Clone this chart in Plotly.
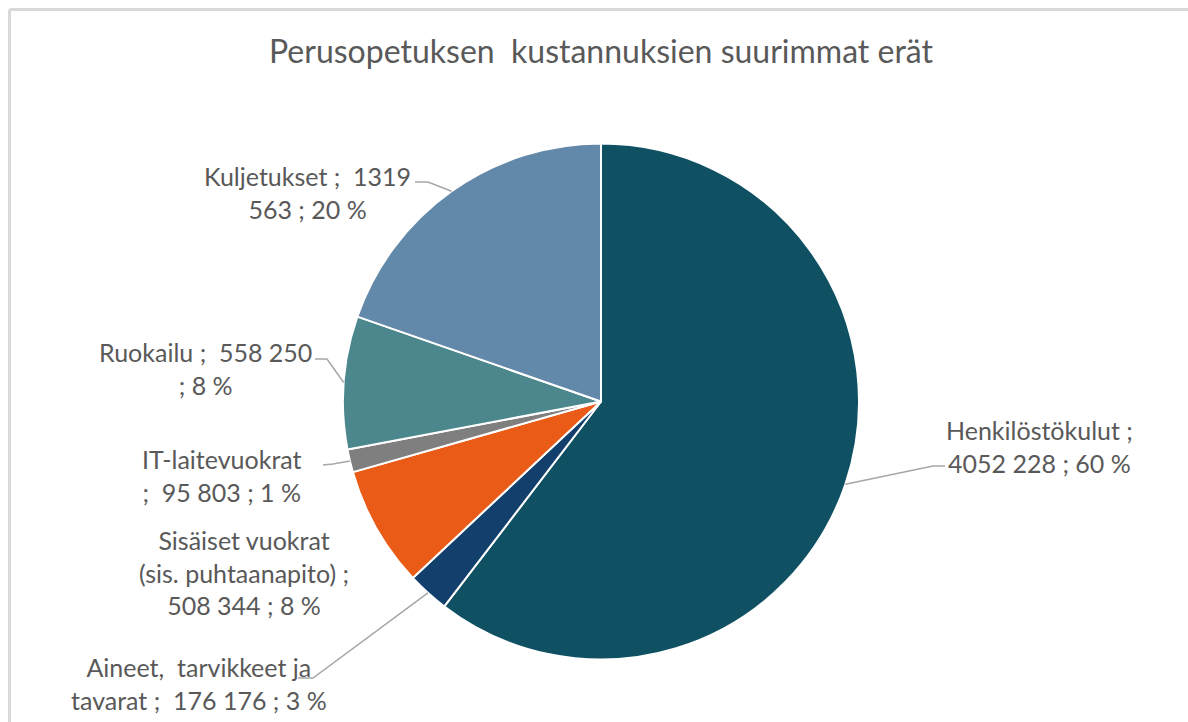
import math
import plotly.graph_objects as go

# ---- data ----
categories = ["Henkilöstökulut", "Aineet, tarvikkeet ja tavarat",
              "Sisäiset vuokrat (sis. puhtaanapito)", "IT-laitevuokrat",
              "Ruokailu", "Kuljetukset"]
values = [4052228, 176176, 508344, 95803, 558250, 1319563]
title_text = "Perusopetuksen&nbsp; kustannuksien suurimmat erät"

# ---- style ----
colors = ["#0f5063", "#133f6c", "#ea5b18", "#7f7f7f", "#4c878d", "#6389aa"]
W, H = 1188, 722
CX, CY, R = 601, 401.5, 258
# words per line for each label
line_words = [[2, 5], [3, 7], [2, 3, 5], [1, 6], [4, 3], [3, 4]]
# label block centres (px)
label_pos = [(1039, 446), (199, 683), (244, 572), (222, 475), (206, 368), (307, 192)]
# leader lines: (elbow, end) in px, None = no line
leaders = [((933, 466), (945, 466)), ((313, 678), (298, 678)), None,
           ((333, 464), (323, 465)), ((327, 359), (315, 359)), ((428, 182), (415, 182))]
font = "Lato, 'Open Sans', sans-serif"
txt_color = "#595959"
NB = "\u00a0"


def fmt(v):
    return f"{v // 1000} {v % 1000:03d}" if v >= 1000 else str(v)


def px(x):
    return x / W


def py(y):
    return 1 - y / H


total = sum(values)
fig = go.Figure(go.Pie(
    labels=categories, values=values, sort=False, direction="clockwise",
    rotation=0, textinfo="none", hoverinfo="label+value+percent",
    marker=dict(colors=colors, line=dict(color="white", width=2)),
    domain=dict(x=[px(CX - R), px(CX + R)], y=[py(CY + R), py(CY - R)]),
    showlegend=False,
))

annotations = []
shapes = []
cum = 0
for i, (cat, v) in enumerate(zip(categories, values)):
    frac = v / total
    mid = (cum + frac / 2) * 2 * math.pi
    cum += frac
    pct = round(frac * 100)
    name = cat.replace(", ", "," + NB + " ")
    words = (f"{name} ;{NB} {fmt(v)} ; {pct} %").split(" ")
    lines, k = [], 0
    for n in line_words[i]:
        lines.append(" ".join(words[k:k + n]).strip(NB))
        k += n
    if k < len(words):
        lines[-1] += " " + " ".join(words[k:])
    lx, ly = label_pos[i]
    annotations.append(dict(
        x=px(lx), y=py(ly), xref="paper", yref="paper", showarrow=False,
        text="<br>".join(lines), align="center", xanchor="center", yanchor="middle",
        font=dict(family=font, size=25, color=txt_color)))
    if leaders[i] is not None:
        sx = CX + R * math.sin(mid)
        sy = CY - R * math.cos(mid)
        (ex, ey), (fx, fy) = leaders[i]
        path = f"M {px(sx)} {py(sy)} L {px(ex)} {py(ey)} L {px(fx)} {py(fy)}"
        shapes.append(dict(type="path", path=path, xref="paper", yref="paper",
                           line=dict(color="#a6a6a6", width=1.5)))

# chart frame (top and left edges visible)
shapes.append(dict(type="line", xref="paper", yref="paper",
                   x0=px(9.5), y0=py(9.5), x1=px(W + 20), y1=py(9.5),
                   line=dict(color="#d9d9d9", width=3), layer="below"))
shapes.append(dict(type="line", xref="paper", yref="paper",
                   x0=px(9.5), y0=py(9.5), x1=px(9.5), y1=py(H + 20),
                   line=dict(color="#d9d9d9", width=3), layer="below"))
# white mask on right edge
shapes.append(dict(type="rect", xref="paper", yref="paper",
                   x0=px(1172), y0=py(H + 20), x1=px(W + 20), y1=py(12),
                   fillcolor="white", line=dict(width=0), layer="above"))

annotations.append(dict(
    x=px(601), y=py(50), xref="paper", yref="paper", showarrow=False,
    text=title_text, xanchor="center", yanchor="middle",
    font=dict(family=font, size=32, color=txt_color)))

fig.update_layout(
    width=W, height=H, margin=dict(l=0, r=0, t=0, b=0),
    paper_bgcolor="white", plot_bgcolor="white",
    annotations=annotations, shapes=shapes,
)
fig.write_html(
    "out.html", config={"displayModeBar": False},
    post_script=("document.documentElement.style.overflow='hidden';"
                 "document.body.style.overflow='hidden';"
                 "document.body.style.margin='0';document.body.style.padding='0';"))
